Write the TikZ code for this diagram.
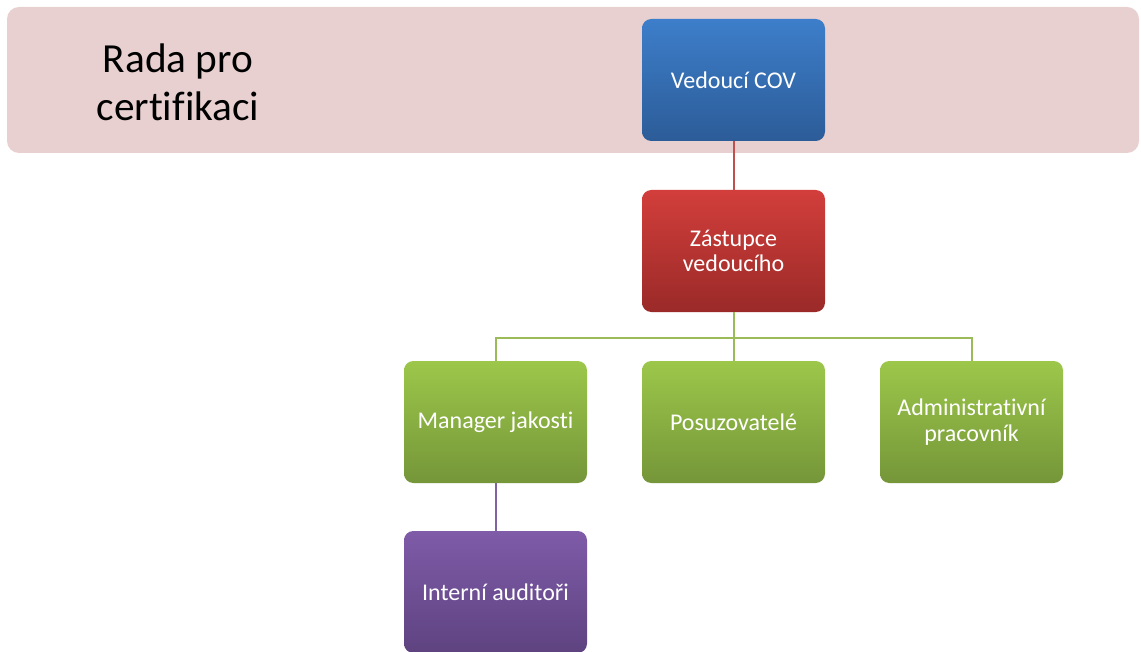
\documentclass[tikz,border=0pt]{standalone}
\usepackage{fontspec}
\setmainfont{Carlito}[Ligatures=NoCommon]
\begin{document}
\begin{tikzpicture}[x=0.75pt,y=-0.75pt,
  box/.style={rounded corners=7pt, minimum width=137.25pt, minimum height=91.5pt,
    inner sep=2pt, align=center, text=white,
    font=\fontsize{18}{19}\selectfont},
  bluebox/.style={box, top color=blueT, bottom color=blueB},
  redbox/.style={box, top color=redT, bottom color=redB},
  greenbox/.style={box, top color=greenT, bottom color=greenB},
  purplebox/.style={box, top color=purpleT, bottom color=purpleB},
  link/.style={line width=1.5pt}
]
\definecolor{bannerC}{RGB}{232,208,208}
\definecolor{blueT}{RGB}{61,126,202}
\definecolor{blueB}{RGB}{44,92,152}
\definecolor{redT}{RGB}{210,62,59}
\definecolor{redB}{RGB}{154,42,40}
\definecolor{greenT}{RGB}{156,199,74}
\definecolor{greenB}{RGB}{117,150,57}
\definecolor{purpleT}{RGB}{127,91,168}
\definecolor{purpleB}{RGB}{94,67,128}
\definecolor{redL}{RGB}{192,80,77}
\definecolor{greenL}{RGB}{155,187,89}
\definecolor{purpleL}{RGB}{128,100,162}
\useasboundingbox (0,0) rectangle (1141,652);
\node[fill=bannerC, rounded corners=9pt, minimum width=849pt, minimum height=109.5pt, inner sep=0pt] (banner) at (573,80) {};
\node[font=\fontsize{31}{36}\selectfont, align=center] (radatext) at (178,82) {Rada pro\\certifikaci};
\node[bluebox] (ved) at (733.5,80) {Vedoucí COV};
\node[redbox] (zast) at (733.5,251) {Zástupce\\vedoucího};
\node[greenbox] (man) at (495.5,422) {Manager jakosti};
\node[greenbox] (pos) at (733.5,422) {Posuzovatelé};
\node[greenbox] (adm) at (971.5,422) {Administrativní\\pracovník};
\node[purplebox] (int) at (495.5,592) {Interní auditoři};
\coordinate (bus) at (733.5,338);
\draw[link, redL] (ved.south) -- (zast.north);
\draw[link, greenL] (zast.south) -- (bus) -| (man.north);
\draw[link, greenL] (bus) -| (adm.north);
\draw[link, greenL] (bus) -- (pos.north);
\draw[link, purpleL] (man.south) -- (int.north);
\end{tikzpicture}
\end{document}
